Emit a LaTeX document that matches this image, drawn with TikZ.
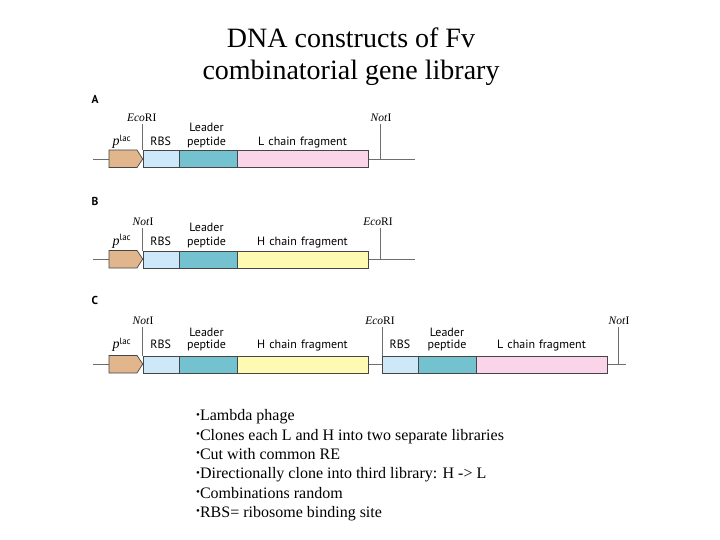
\documentclass[tikz,border=0pt]{standalone}
\usepackage{fontspec}
\setmainfont{Liberation Serif}
\newfontfamily\labfont{PT Sans}[WordSpace=1.25]
\usetikzlibrary{positioning}
\definecolor{placc}{RGB}{226,182,140}
\definecolor{rbsc}{RGB}{205,232,248}
\definecolor{leadc}{RGB}{116,193,208}
\definecolor{lchc}{RGB}{250,212,232}
\definecolor{hchc}{RGB}{255,250,178}
\definecolor{edgec}{RGB}{70,70,70}
\definecolor{dnac}{RGB}{110,110,110}
\tikzset{
  seg/.style={draw=edgec, line width=0.7pt, minimum height=17.5pt, inner sep=0pt, anchor=north west},
  dna/.style={draw=dnac, line width=0.8pt},
  tick/.style={draw=dnac, line width=0.8pt},
  lab/.style={font=\labfont\fontsize{12}{13}\selectfont, inner sep=0pt, anchor=base},
  enz/.style={font=\fontsize{11.5}{12}\selectfont, inner sep=0pt, anchor=base},
  panel/.style={font=\labfont\bfseries\fontsize{11.5}{12}\selectfont, inner sep=0pt, anchor=base west},
  promo/.style={draw=edgec, line width=0.7pt, fill=placc},
  plab/.style={font=\fontsize{14}{14}\selectfont, inner sep=0pt, anchor=base},
  bul/.style={font=\fontsize{16}{18}\selectfont, inner sep=0pt, anchor=base west},
  ttl/.style={font=\fontsize{28}{30}\selectfont, inner sep=0pt, anchor=base},
}
\newcommand{\bt}{\raisebox{2.4pt}{\fontsize{11}{11}\selectfont •}}
\newcommand{\plac}{\textit{p}\raisebox{4.5pt}{\labfont\fontsize{9}{9}\selectfont lac}}
\begin{document}
\begin{tikzpicture}[x=1pt,y=-1pt]
\useasboundingbox[fill=white] (0,0) rectangle (720,540);

% Title (its lower edge is cut off in the reference)
\begin{scope}
\clip (0,0) rectangle (720,84.5);
\node[ttl] (t1) at (351,47.3) {DNA constructs of Fv};
\node[ttl] (t2) at (351,80) {combinatorial gene library};
\end{scope}

% ---------------- Panel A ----------------
\coordinate (a-l0) at (93,159);
\coordinate (a-l1) at (415,159);
\draw[dna] (a-l0) -- (a-l1);
\draw[promo] (109,150) -- (137,150) -- (142.7,159) -- (137,167.5) -- (109,167.5) -- cycle;
\coordinate (a-p) at (121.7,146);
\node[seg, fill=rbsc, minimum width=36.6pt] (a-rbs) at (142.7,150) {};
\node[seg, fill=leadc, minimum width=57.4pt] (a-lead) at (179.3,150) {};
\node[seg, fill=lchc, minimum width=131.6pt] (a-ch) at (236.7,150) {};
\coordinate (a-e1t) at (142.7,124.5);
\coordinate (a-e2t) at (380.7,124.5);
\coordinate (a-e2b) at (380.7,159);
\draw[tick] (a-e1t) -- (a-rbs.north west);
\draw[tick] (a-e2t) -- (a-e2b);
\node[panel] (a-let) at (91.5,104) {A};
\node[enz] (a-eco) at (141.7,121.5) {\textit{Eco}RI};
\node[enz] (a-not) at (381,121.5) {\textit{Not}I};
\node[plab] (a-plac) at (a-p) {\plac};
\node[lab] (a-rbst) at (160.7,146) {RBS};
\node[lab] (a-ldt) at (206.5,132) {Leader};
\node[lab] (a-ppt) at (206.5,146) {peptide};
\node[lab] (a-cht) at (302.5,146) {L chain fragment};

% ---------------- Panel B ----------------
\coordinate (b-l0) at (93,259);
\coordinate (b-l1) at (415,259);
\draw[dna] (b-l0) -- (b-l1);
\draw[promo] (109,250.5) -- (137,250.5) -- (142.7,259) -- (137,268) -- (109,268) -- cycle;
\coordinate (b-p) at (121.7,245);
\node[seg, fill=rbsc, minimum width=36.6pt] (b-rbs) at (142.7,250.5) {};
\node[seg, fill=leadc, minimum width=57.4pt] (b-lead) at (179.3,250.5) {};
\node[seg, fill=hchc, minimum width=131.6pt] (b-ch) at (236.7,250.5) {};
\coordinate (b-e1t) at (142.7,228.5);
\coordinate (b-e2t) at (380.7,228.5);
\coordinate (b-e2b) at (380.7,259);
\draw[tick] (b-e1t) -- (b-rbs.north west);
\draw[tick] (b-e2t) -- (b-e2b);
\node[panel] (b-let) at (91.5,206) {B};
\node[enz] (b-not) at (143,225.5) {\textit{Not}I};
\node[enz] (b-eco) at (378,225.5) {\textit{Eco}RI};
\node[plab] (b-plac) at (b-p) {\plac};
\node[lab] (b-rbst) at (160.7,245) {RBS};
\node[lab] (b-ldt) at (206.5,231) {Leader};
\node[lab] (b-ppt) at (206.5,245) {peptide};
\node[lab] (b-cht) at (302.5,245) {H chain fragment};

% ---------------- Panel C ----------------
\coordinate (c-l0) at (93,364);
\coordinate (c-l1) at (626,364);
\draw[dna] (c-l0) -- (c-l1);
\draw[promo] (109,355.5) -- (137,355.5) -- (142.7,364) -- (137,373) -- (109,373) -- cycle;
\coordinate (c-p) at (121.7,348.5);
\node[seg, fill=rbsc, minimum width=36.6pt] (c-rbs) at (142.7,355.5) {};
\node[seg, fill=leadc, minimum width=57.4pt] (c-lead) at (179.3,355.5) {};
\node[seg, fill=hchc, minimum width=131.6pt] (c-ch) at (236.7,355.5) {};
\node[seg, fill=rbsc, minimum width=36.3pt] (c-rbs2) at (382,355.5) {};
\node[seg, fill=leadc, minimum width=57.4pt] (c-lead2) at (418.3,355.5) {};
\node[seg, fill=lchc, minimum width=131.6pt] (c-ch2) at (475.7,355.5) {};
\coordinate (c-e1t) at (142.7,327);
\coordinate (c-e2t) at (382,327);
\coordinate (c-e3t) at (618,327);
\coordinate (c-e3b) at (618,364);
\draw[tick] (c-e1t) -- (c-rbs.north west);
\draw[tick] (c-e2t) -- (c-rbs2.north west);
\draw[tick] (c-e3t) -- (c-e3b);
\node[panel] (c-let) at (91.5,304) {C};
\node[enz] (c-not) at (143,324) {\textit{Not}I};
\node[enz] (c-eco) at (380,324) {\textit{Eco}RI};
\node[enz] (c-not2) at (619,324) {\textit{Not}I};
\node[plab] (c-plac) at (c-p) {\plac};
\node[lab] (c-rbst) at (160.7,348.5) {RBS};
\node[lab] (c-ldt) at (206.5,336) {Leader};
\node[lab] (c-ppt) at (206.5,348.5) {peptide};
\node[lab] (c-cht) at (302.5,348.5) {H chain fragment};
\node[lab] (c-rbst2) at (400,348.5) {RBS};
\node[lab] (c-ldt2) at (447,336) {Leader};
\node[lab] (c-ppt2) at (447,348.5) {peptide};
\node[lab] (c-cht2) at (541.5,348.5) {L chain fragment};

% ---------------- Bullets ----------------
\node[bul] (b1) at (196,420.7) {\bt Lambda phage};
\node[bul] (b2) at (196,440) {\bt Clones each L and H into two separate libraries};
\node[bul] (b3) at (196,459.3) {\bt Cut with common RE};
\node[bul] (b4) at (196,478.7) {\bt Directionally clone into third library: H -> L};
\node[bul] (b5) at (196,498) {\bt Combinations random};
\node[bul] (b6) at (196,517.3) {\bt RBS= ribosome binding site};
\end{tikzpicture}
\end{document}
